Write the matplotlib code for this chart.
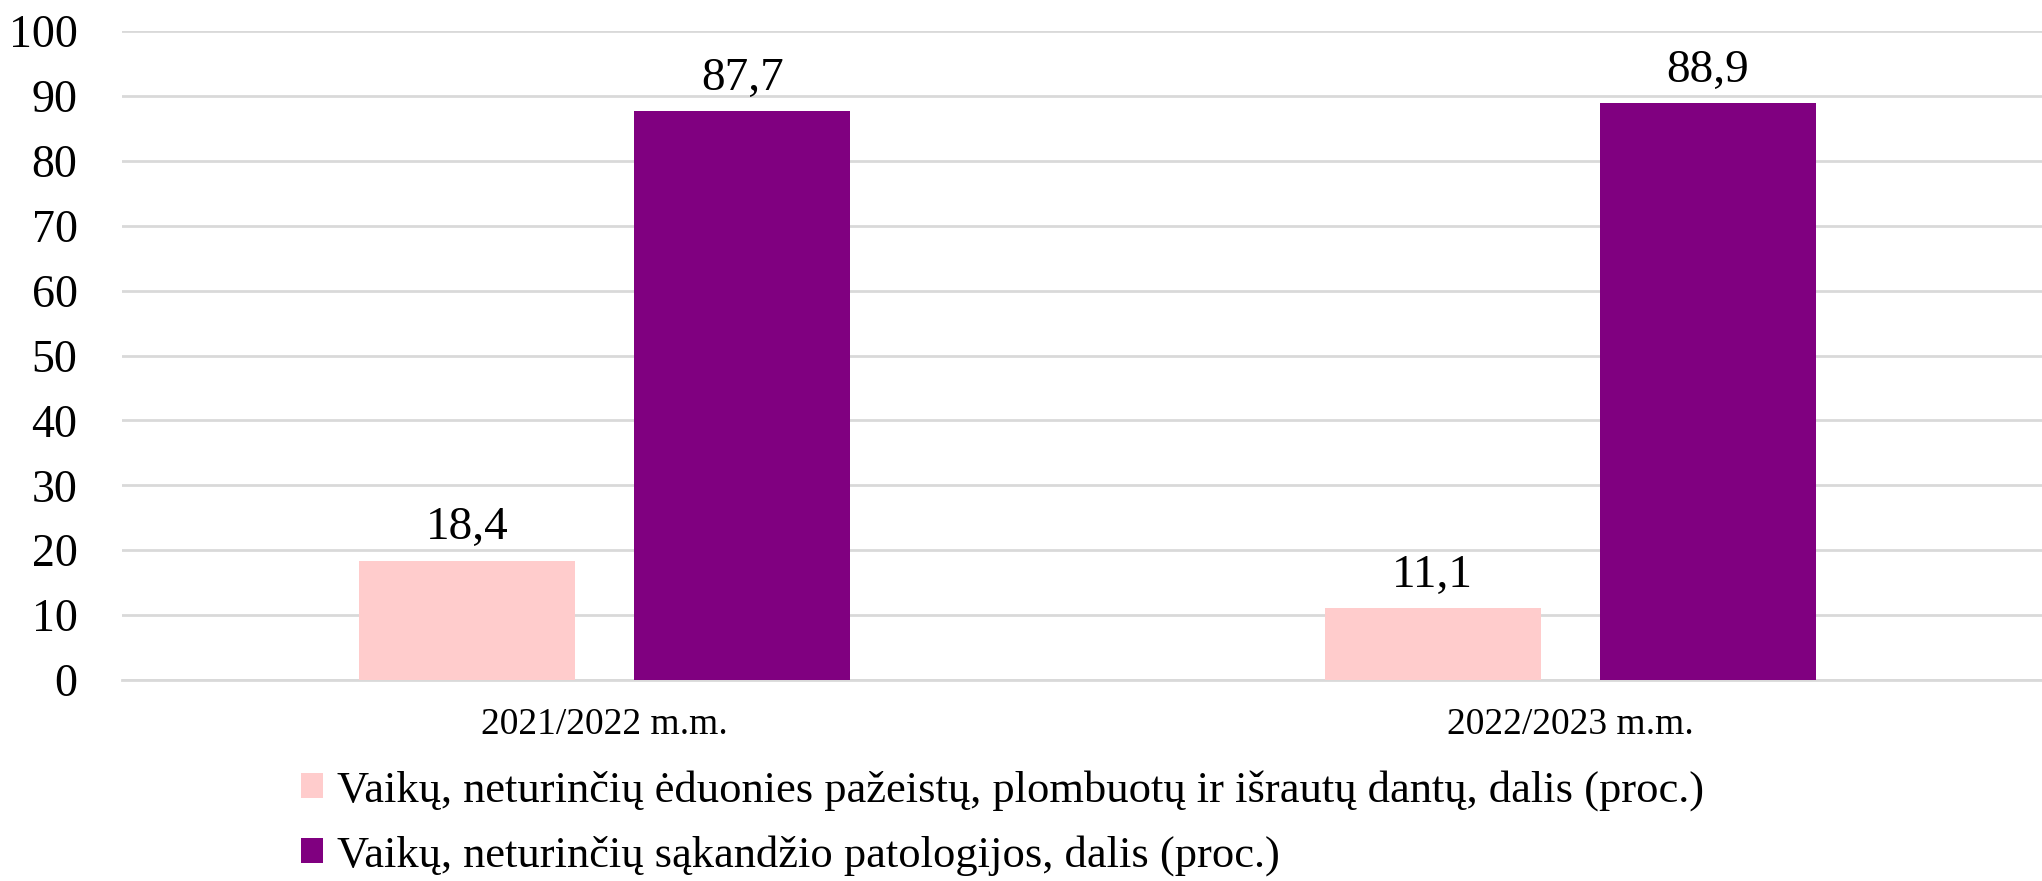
import matplotlib.pyplot as plt
import numpy as np

categories = ["2021/2022 m.m.", "2022/2023 m.m."]
series_names = [
    "Vaikų, neturinčių ėduonies pažeistų, plombuotų ir išrautų dantų, dalis (proc.)",
    "Vaikų, neturinčių sąkandžio patologijos, dalis (proc.)",
]
no_caries = [18.4, 11.1]
no_bite_pathology = [87.7, 88.9]
colors = ["#FFCCCC", "#800080"]

plt.rcParams['font.family'] = ['Liberation Serif', 'DejaVu Serif']

fig = plt.figure(figsize=(20.42, 8.81), dpi=100)
ax = fig.add_axes([122 / 2042, 1 - 680 / 881, 1931 / 2042, 649 / 881])

x = np.arange(len(categories))
w = 0.224
off = 0.1424
for i, (vals, name) in enumerate(zip([no_caries, no_bite_pathology], series_names)):
    bars = ax.bar(x + (i * 2 - 1) * off, vals, w, color=colors[i], label=name, zorder=3)
    ax.bar_label(bars, labels=[f"{v:.1f}".replace('.', ',') for v in vals],
                 padding=8, fontsize=34)

ax.set_xlim(-0.5, 1.5)
ax.set_ylim(0, 100)
ax.set_yticks(range(0, 101, 10))
ax.set_xticks(x)
ax.set_xticklabels(categories, fontsize=27)
ax.tick_params(axis='y', labelsize=33, length=0, pad=32)
ax.tick_params(axis='x', length=0, pad=20)
ax.grid(axis='y', color='#d9d9d9', linewidth=2, zorder=0)
for s in ['top', 'right', 'left']:
    ax.spines[s].set_visible(False)
ax.spines['bottom'].set_color('#d9d9d9')
ax.spines['bottom'].set_linewidth(2)

fig.legend(loc='center left', bbox_to_anchor=(301 / 2042, 1 - 823 / 881),
           ncol=1, frameon=False, fontsize=32, handlelength=0.5, handleheight=0.5,
           handletextpad=0.3, labelspacing=0.54, borderpad=0, borderaxespad=0)

fig.savefig("out.png", dpi=100)
plt.close(fig)
